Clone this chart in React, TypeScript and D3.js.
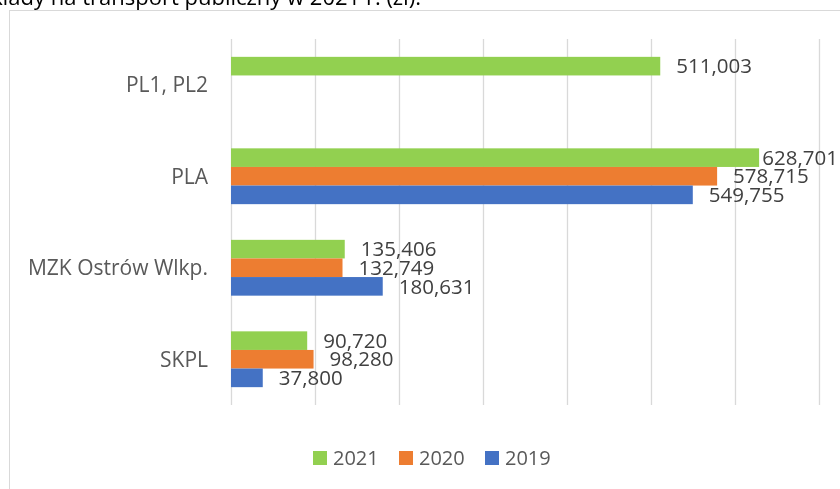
import * as d3 from 'd3'
import { useRef, useEffect } from 'react'

const categories = ['PL1, PL2', 'PLA', 'MZK Ostrów Wlkp.', 'SKPL']
const years = ['2021', '2020', '2019']
const values2021 = [511003, 628701, 135406, 90720]
const values2020 = [null, 578715, 132749, 98280]
const values2019 = [null, 549755, 180631, 37800]
const xTicks = [0, 100000, 200000, 300000, 400000, 500000, 600000, 700000]
const colors = ['#92d050', '#ed7d31', '#4472c4']
const titleText = 'Nakłady na transport publiczny w 2021 r. (zł).'

const FONT = "'Open Sans', sans-serif"

const App = () => {
  const chartRef = useRef<SVGSVGElement>(null)

  useEffect(() => {
    drawChart()
  }, [])

  const drawChart = () => {
    const width = 840
    const height = 489
    const plot = { left: 231, right: 819, top: 39, bottom: 405 }

    const svg = d3.select(chartRef.current)
    svg.selectAll('*').remove()
    svg.attr('width', width).attr('height', height)

    // title, mostly cut off above the image
    svg
      .append('text')
      .attr('x', 421)
      .attr('y', 5)
      .attr('text-anchor', 'end')
      .attr('font-family', FONT)
      .attr('font-size', 22)
      .attr('fill', '#000')
      .text(titleText)

    // chart area border
    svg
      .append('rect')
      .attr('x', 9.5)
      .attr('y', 10.5)
      .attr('width', 860)
      .attr('height', 500)
      .attr('fill', 'none')
      .attr('stroke', '#d9d9d9')
      .attr('stroke-width', 1)

    const x = d3.scaleLinear().domain([0, 700000]).range([plot.left, plot.right])

    const y = d3
      .scaleBand()
      .domain(categories)
      .range([plot.top, plot.bottom])
      .paddingInner(0.39)
      .paddingOuter(0.195)

    const ySub = d3.scaleBand().domain(years).range([0, y.bandwidth()])

    // gridlines
    const grid = svg
      .append('g')
      .attr('transform', 'translate(0,' + plot.bottom + ')')
      .call(
        d3
          .axisBottom(x)
          .tickValues(xTicks)
          .tickSize(-(plot.bottom - plot.top))
          .tickFormat(() => '')
      )
    grid.select('.domain').remove()
    grid.selectAll('line').attr('stroke', '#d9d9d9').attr('stroke-width', 1.3)

    // category labels
    svg
      .append('g')
      .selectAll('text')
      .data(categories)
      .enter()
      .append('text')
      .attr('x', 208)
      .attr('y', (d) => y(d)! + y.bandwidth() / 2)
      .attr('dy', '0.35em')
      .attr('text-anchor', 'end')
      .attr('font-family', FONT)
      .attr('font-size', 21)
      .attr('fill', '#595959')
      .text((d) => d)

    const series = [values2021, values2020, values2019]
    const rows = series.flatMap((vals, si) =>
      vals
        .map((v, ci) => ({ year: years[si], color: colors[si], cat: categories[ci], value: v }))
        .filter((r) => r.value !== null)
    ) as { year: string; color: string; cat: string; value: number }[]

    svg
      .append('g')
      .selectAll('rect')
      .data(rows)
      .enter()
      .append('rect')
      .attr('x', x(0))
      .attr('y', (d) => y(d.cat)! + ySub(d.year)!)
      .attr('width', (d) => x(d.value) - x(0))
      .attr('height', ySub.bandwidth())
      .attr('fill', (d) => d.color)

    const fmt = d3.format(',')
    const labels = svg
      .append('g')
      .selectAll('text')
      .data(rows)
      .enter()
      .append('text')
      .attr('x', (d) => x(d.value) + 16)
      .attr('y', (d) => y(d.cat)! + ySub(d.year)! + ySub.bandwidth() / 2)
      .attr('dy', '0.35em')
      .attr('font-family', FONT)
      .attr('font-size', 20.5)
      .attr('fill', '#404040')
      .text((d) => fmt(d.value))

    // push labels back inside when they would run off the right edge
    labels.each(function () {
      const node = this as SVGTextElement
      const w = node.getComputedTextLength()
      const lx = +node.getAttribute('x')!
      if (lx + w > 838) node.setAttribute('x', String(838 - w))
    })

    // legend
    const legend = svg
      .append('g')
      .selectAll('g')
      .data(years)
      .enter()
      .append('g')
      .attr('transform', (d, i) => 'translate(' + (313 + i * 86) + ',451)')
    legend
      .append('rect')
      .attr('width', 14)
      .attr('height', 14)
      .attr('fill', (d, i) => colors[i])
    legend
      .append('text')
      .attr('x', 20)
      .attr('y', 7)
      .attr('dy', '0.35em')
      .attr('font-family', FONT)
      .attr('font-size', 20)
      .attr('fill', '#595959')
      .text((d) => d)
  }

  return (
    <div style={{ position: 'fixed', left: 0, top: 0 }}>
      <svg ref={chartRef} style={{ display: 'block' }}></svg>
    </div>
  )
}

export default App
